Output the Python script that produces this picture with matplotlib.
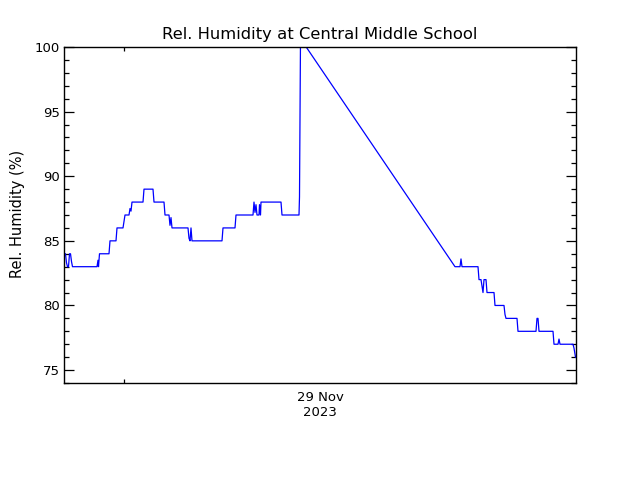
import matplotlib
matplotlib.use("Agg")
import matplotlib.pyplot as plt
from matplotlib.ticker import FixedLocator, MultipleLocator, NullFormatter

# Time in minutes relative to 29 Nov 2023 00:00, relative humidity in %
minutes = [-180, -175.5, -172.5, -169.5, -166.5, -163.5, -160.5, -157.5, -154.5,
           -81, -78, -76.5, -73.5,
           -45, -42,
           -24, -21,
           -3, 0, 3,
           15, 18, 21, 24,
           57, 60,
           87, 90,
           120, 123,
           135, 138, 141, 144,
           192, 195, 198, 201, 204,
           294, 297,
           333, 336,
           387, 390, 393, 396, 399, 405, 406.5, 409.5, 411,
           471, 474,
           525, 526.5, 529.5,
           993,
           1008, 1011, 1014,
           1062, 1065,
           1071, 1077, 1080, 1086, 1089,
           1110, 1113,
           1140, 1143, 1146,
           1179, 1182,
           1236, 1239, 1242, 1245,
           1287, 1290,
           1302, 1305, 1308,
           1347, 1350, 1354.5]
humidity = [84, 84, 83.3, 83, 83, 84, 84, 83.4, 83,
            83, 83.5, 83, 84,
            84, 85,
            85, 86,
            86, 86.5, 87,
            87, 87.5, 87.3, 88,
            88, 89,
            89, 88,
            88, 87,
            87, 86.2, 86.8, 86,
            86, 85.2, 85, 86, 85,
            85, 86,
            86, 87,
            87, 88, 87.2, 87.8, 87, 87, 87.8, 87, 88,
            88, 87,
            87, 88.4, 100.65,
            83,
            83, 83.6, 83,
            83, 82,
            82, 81, 82, 82, 81,
            81, 80,
            80, 79.3, 79,
            79, 78,
            78, 79, 79, 78,
            78, 77,
            77, 77.4, 77,
            77, 76.7, 76]

title = "Rel. Humidity at Central Middle School"
ylabel = "Rel. Humidity (%)"
date_label = "29 Nov\n2023"
date_tick = [0]
y_ticks = [75, 80, 85, 90, 95, 100]

fig = plt.figure(figsize=(6.4, 4.8), dpi=100)
ax = fig.add_axes([64/640, 1-383/480, 512/640, 336/480])
ax.plot(minutes, humidity, color=(0, 0, 1), lw=0.9)
ax.set_xlim(-180, 1356)
ax.set_ylim(74, 100)

ax.yaxis.set_major_locator(FixedLocator(y_ticks))
ax.yaxis.set_minor_locator(MultipleLocator(1))
ax.xaxis.set_major_locator(FixedLocator(date_tick))
ax.xaxis.set_major_formatter(NullFormatter())
ax.tick_params(axis='y', which='major', direction='in', length=7.2, width=0.9,
               left=True, right=True, labelsize=9.5, pad=3)
ax.tick_params(axis='y', which='minor', direction='in', length=3.6, width=0.9,
               left=True, right=True)
ax.tick_params(axis='x', which='major', direction='in', length=3, width=0.9,
               bottom=True, top=True)
ax.tick_params(axis='x', which='minor', bottom=False, top=False)
for s in ax.spines.values():
    s.set_linewidth(1.0)

fig.text(0.5, 1-35/480, title, ha='center', va='center', fontsize=11.8)
fig.text(18/640, 1-214/480, ylabel, ha='center', va='center', rotation=90, fontsize=10.5)
fig.text(0.5, 1-391/480, date_label, ha='center', va='top', fontsize=9.5,
         linespacing=1.15)

fig.savefig("out.png", dpi=100)
